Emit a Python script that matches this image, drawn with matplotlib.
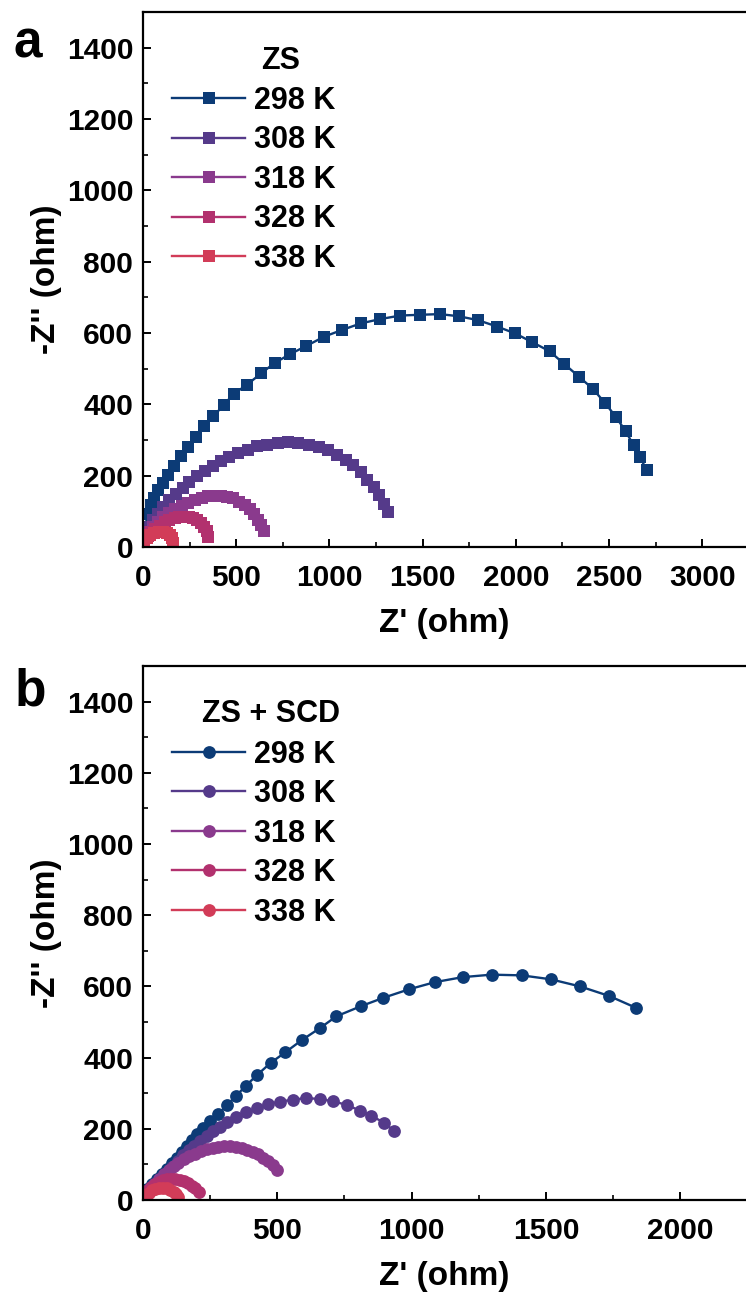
import matplotlib
matplotlib.use("Agg")
import matplotlib.pyplot as plt
from matplotlib.ticker import MultipleLocator

plt.rcParams['font.family'] = ['Liberation Sans', 'DejaVu Sans']
plt.rcParams['font.weight'] = 'bold'
plt.rcParams['axes.labelweight'] = 'bold'

temps = ["298 K", "308 K", "318 K", "328 K", "338 K"]
colors = ["#0c3b76", "#553a8a", "#8a3a8d", "#b2316e", "#d23c58"]

# ---- Panel a: ZS ----
a298_x = [5, 25, 41, 60, 80, 105, 134, 167, 202, 243, 284, 325, 377, 434, 486, 558, 634, 706,
          790, 877, 973, 1070, 1169, 1272, 1381, 1484, 1591, 1694, 1797, 1900, 1996, 2089,
          2181, 2260, 2338, 2414, 2480, 2538, 2589, 2632, 2667, 2702]
a298_y = [35, 93, 117, 138, 159, 179, 201, 227, 254, 280, 308, 338, 366, 399, 429, 455, 487, 516,
          541, 564, 590, 609, 627, 639, 649, 651, 653, 647, 636, 618, 599, 574,
          549, 513, 478, 443, 403, 364, 325, 285, 252, 215]
a308_x = [10, 27, 51, 78, 109, 140, 175, 212, 249, 290, 331, 373, 418, 463, 510, 562, 613, 665,
          722, 778, 833, 891, 943, 994, 1039, 1087, 1128, 1169, 1204, 1237, 1266, 1292, 1313]
a308_y = [37, 56, 75, 93, 112, 131, 149, 166, 182, 198, 213, 227, 240, 252, 263, 273, 282, 287,
          292, 293, 291, 286, 280, 271, 259, 244, 229, 210, 189, 168, 145, 121, 98]
a318_x = [12, 32, 53, 78, 107, 137, 172, 208, 243, 279, 315, 350, 384, 418, 451, 483, 515, 546,
          572, 595, 617, 634, 647]
a318_y = [28, 42, 57, 71, 83, 94, 106, 115, 124, 131, 138, 142, 144, 144, 141, 136, 127, 117,
          106, 92, 77, 61, 44]
a328_x = [7, 25, 44, 66, 89, 116, 142, 169, 195, 222, 247, 270, 291, 311, 329, 341, 350]
a328_y = [19, 30, 41, 51, 60, 69, 75, 80, 83, 84, 83, 80, 75, 68, 57, 44, 28]
a338_x = [7, 21, 39, 60, 84, 107, 128, 146, 158, 163]
a338_y = [16, 25, 33, 40, 42, 42, 40, 33, 24, 11]

# ---- Panel b: ZS + SCD ----
b298_x = [14, 32, 51, 70, 88, 107, 125, 144, 163, 181, 200, 222, 249, 280, 312, 346, 383, 426,
          475, 530, 591, 659, 720, 810, 895, 991, 1087, 1190, 1298, 1410, 1518, 1627, 1736, 1835]
b298_y = [30, 44, 58, 72, 86, 103, 119, 136, 152, 168, 185, 203, 222, 241, 266, 292, 321, 352,
          385, 415, 449, 483, 516, 544, 568, 592, 612, 626, 633, 631, 620, 600, 573, 540]
b308_x = [15, 33, 52, 71, 89, 108, 129, 149, 170, 191, 213, 238, 262, 287, 314, 347, 384, 423,
          467, 510, 557, 606, 658, 708, 760, 807, 850, 897, 933]
b308_y = [19, 33, 47, 60, 77, 93, 110, 126, 140, 153, 167, 181, 195, 206, 219, 233, 246, 258,
          270, 276, 282, 286, 284, 277, 267, 251, 237, 217, 195]
b318_x = [5, 21, 40, 58, 77, 95, 114, 132, 151, 173, 194, 217, 238, 260, 281, 302, 324, 347,
          368, 389, 411, 429, 448, 467, 483, 498]
b318_y = [16, 30, 45, 59, 72, 84, 95, 105, 114, 123, 130, 137, 142, 146, 149, 151, 151, 149,
          146, 141, 135, 128, 119, 109, 98, 84]
b328_x = [5, 17, 30, 43, 58, 74, 89, 104, 120, 136, 151, 167, 182, 194, 207]
b328_y = [19, 28, 37, 45, 51, 56, 59, 60, 59, 57, 53, 47, 40, 33, 23]
b338_x = [0, 9, 21, 33, 46, 59, 74, 89, 101, 114, 124, 132]
b338_y = [7, 14, 20, 27, 32, 34, 34, 33, 29, 23, 17, 9]

panel_a = [(a298_x, a298_y), (a308_x, a308_y), (a318_x, a318_y), (a328_x, a328_y), (a338_x, a338_y)]
panel_b = [(b298_x, b298_y), (b308_x, b308_y), (b318_x, b318_y), (b328_x, b328_y), (b338_x, b338_y)]

W, H = 746, 1296
fig = plt.figure(figsize=(W / 100, H / 100), dpi=100)

def px_axes(left, top, right, bottom):
    return fig.add_axes([left / W, 1 - bottom / H, (right - left) / W, (bottom - top) / H])

ax_a = px_axes(143, 12, 746, 547)
ax_b = px_axes(143, 666, 746, 1200)

def style(ax, xmax, title, title_xy, marker, ms, series):
    for (xs, ys), c, lab in zip(series, colors, temps):
        ax.plot(xs, ys, color=c, lw=1.7, marker=marker, ms=ms, mec=c, mfc=c, mew=0, label=lab)
    ax.set_xlim(0, xmax)
    ax.set_ylim(0, 1500)
    ax.xaxis.set_major_locator(MultipleLocator(500))
    ax.xaxis.set_minor_locator(MultipleLocator(250))
    ax.yaxis.set_major_locator(MultipleLocator(200))
    ax.yaxis.set_minor_locator(MultipleLocator(100))
    ax.set_yticks(range(0, 1401, 200))
    ax.spines['right'].set_visible(False)
    for s in ['left', 'bottom', 'top']:
        ax.spines[s].set_linewidth(1.6)
    ax.tick_params(which='major', direction='in', length=6, width=1.4, labelsize=21.5,
                   top=False, right=False)
    ax.tick_params(axis='x', which='major', pad=12)
    ax.tick_params(axis='y', which='major', pad=7)
    ax.tick_params(which='minor', direction='in', length=3.5, width=1.2, top=False, right=False)
    ax.set_xlabel("Z' (ohm)", fontsize=24, labelpad=12)
    ax.set_ylabel("-Z'' (ohm)", fontsize=24)
    ax.yaxis.set_label_coords(-0.135, 0.5)
    ax.text(title_xy[0], title_xy[1], title, transform=ax.transAxes, fontsize=22,
            ha='center', va='center')
    leg = ax.legend(loc='upper left', bbox_to_anchor=(0.048, 0.862), frameon=False,
                    fontsize=22, handlelength=2.4, handletextpad=0.3, labelspacing=0.31,
                    borderpad=0, borderaxespad=0, markerscale=1.0)
    return leg

style(ax_a, 3235, "ZS", (0.229, 0.908), 's', 8.2, panel_a)
style(ax_b, 2245, "ZS + SCD", (0.212, 0.910), 'o', 9.2, panel_b)

fig.text(13 / W, 1 - 58 / H, "a", fontsize=37, ha='left', va='baseline')
fig.text(15 / W, 1 - 705 / H, "b", fontsize=37, ha='left', va='baseline')

fig.savefig("out.png", dpi=100)
